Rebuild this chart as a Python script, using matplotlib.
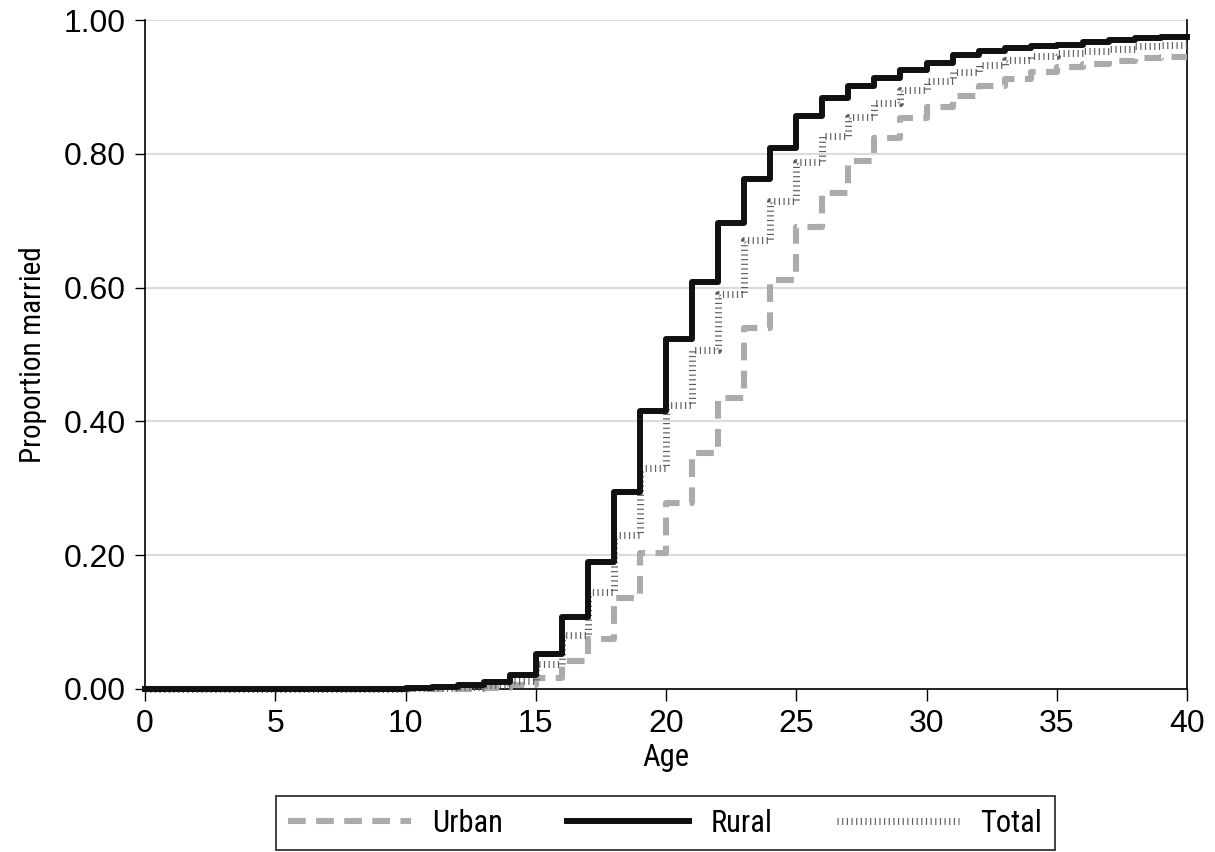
import numpy as np
import matplotlib.pyplot as plt
from matplotlib import font_manager

# proportion married at each age (value holds for [age, age+1))
ages = list(range(0, 41))

urban = [0, 0, 0, 0, 0, 0, 0, 0, 0, 0,
         0, 0, 0, 0.001, 0.006, 0.016, 0.042, 0.074, 0.136, 0.204,
         0.278, 0.353, 0.435, 0.540, 0.611, 0.690, 0.741, 0.789, 0.824, 0.854,
         0.870, 0.886, 0.901, 0.912, 0.922, 0.929, 0.934, 0.939, 0.943, 0.945]

rural = [0, 0, 0, 0, 0, 0, 0, 0, 0, 0,
         0.001, 0.003, 0.006, 0.011, 0.021, 0.053, 0.107, 0.190, 0.295, 0.415,
         0.523, 0.609, 0.697, 0.763, 0.809, 0.856, 0.884, 0.901, 0.914, 0.926,
         0.936, 0.947, 0.953, 0.958, 0.961, 0.963, 0.967, 0.970, 0.973, 0.975]

total = [0, 0, 0, 0, 0, 0, 0, 0, 0, 0,
         0.001, 0.002, 0.003, 0.006, 0.012, 0.038, 0.081, 0.145, 0.230, 0.330,
         0.425, 0.507, 0.590, 0.671, 0.729, 0.788, 0.826, 0.855, 0.876, 0.895,
         0.909, 0.922, 0.932, 0.940, 0.946, 0.950, 0.954, 0.957, 0.961, 0.962]

xticks = [0, 5, 10, 15, 20, 25, 30, 35, 40]
yticks = [0.0, 0.2, 0.4, 0.6, 0.8, 1.0]

names = set(f.name for f in font_manager.fontManager.ttflist)
narrow = 'Liberation Sans'
for cand in ['Liberation Sans Narrow', 'DejaVu Sans Condensed', 'Roboto Condensed']:
    if cand in names:
        narrow = cand
        break

plt.rcParams['font.family'] = 'Liberation Sans'

fig = plt.figure(figsize=(12.15, 8.52), dpi=100)
ax = fig.add_axes([145 / 1215, 1 - 689 / 852, 1042 / 1215, 669 / 852])

def ext(v):
    return v + [v[-1]]

ax.step(ages, ext(urban), where='post', color='#ababab', lw=4.4,
        linestyle=(0, (2.9, 1.7)), dash_capstyle='butt', label='Urban',
        clip_on=False, zorder=3)
ax.step(ages, ext(total), where='post', color='#5e5e5e', lw=5,
        linestyle=(0, (0.17, 0.5)), dash_capstyle='butt', label='Total',
        clip_on=False, zorder=4)
ax.step(ages, ext(rural), where='post', color='#111111', lw=4.3,
        label='Rural', clip_on=False, zorder=5)

ax.set_xlim(0, 40)
ax.set_ylim(0, 1)
ax.set_xticks(xticks)
ax.set_yticks(yticks)
ax.set_yticklabels(['%.2f' % t for t in yticks])
ax.yaxis.grid(True, color='#dcdcdc', lw=1.6)
ax.set_axisbelow(True)

for s in ['left', 'bottom', 'right']:
    ax.spines[s].set_linewidth(1.2)
    ax.spines[s].set_color('black')
ax.spines['top'].set_visible(False)

ax.tick_params(axis='y', length=7, width=1, pad=7, labelsize=23)
ax.tick_params(axis='x', length=8.5, width=1, pad=6, labelsize=23)

ax.set_xlabel('Age', fontsize=22, family=narrow, labelpad=3)
ax.set_ylabel('Proportion married', fontsize=21, family=narrow, labelpad=12)

handles, labels = ax.get_legend_handles_labels()
order = [0, 2, 1]
leg = fig.legend([handles[i] for i in order], [labels[i] for i in order],
                 loc='center', bbox_to_anchor=(0.5477, 0.034), ncol=3,
                 frameon=True, fancybox=False, edgecolor='black',
                 prop={'family': narrow, 'size': 22},
                 handlelength=4.0, handletextpad=0.7, columnspacing=2.1,
                 borderpad=0.4)
leg.get_frame().set_linewidth(1.3)

fig.savefig('out.png', dpi=100)
